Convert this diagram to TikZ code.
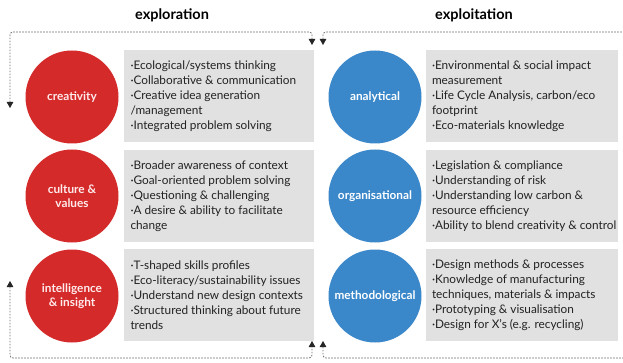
\documentclass[tikz,border=0pt]{standalone}
\usepackage{fontspec}
\setmainfont{Lato}
\usetikzlibrary{arrows.meta, positioning}
\definecolor{cRed}{HTML}{D52A2A}
\definecolor{cBlue}{HTML}{3A87C9}
\definecolor{cBox}{HTML}{E1E1E1}
\definecolor{cLoop}{HTML}{707070}
\definecolor{cText}{HTML}{222222}

\begin{document}
\begin{tikzpicture}[x=1pt, y=-1pt,
      >={Triangle[length=6pt, width=6.5pt, color=black!85]},
      ring/.style={circle, minimum size=93pt, inner sep=0pt, align=center,
                   font=\fontsize{11.8}{13.5}\selectfont\bfseries},
      expl/.style={ring, fill=cRed, text=red!8},
      expt/.style={ring, fill=cBlue, text=white},
      panel/.style={fill=cBox, minimum width=190pt, minimum height=92pt,
                    inner sep=0pt},
      items/.style={align=left, inner sep=0pt, text=cText,
                    font=\fontsize{11.8}{15}\selectfont},
      head/.style={font=\fontsize{14.5}{17}\selectfont\bfseries},
      cycleline/.style={cLoop, line width=0.8pt,
                        dash pattern=on 1.6pt off 1.4pt, rounded corners=3pt}]
    \path[fill=white, use as bounding box] (0,0) rectangle (623,363);

    % headings
    \node[head] (hleft) at (172,15) {exploration};
    \node[head] (hright) at (474,15) {exploitation};

    % exploration column
    \node[expl] (crea) at (72,97)  {creativity};
    \node[expl] (cult) at (72,196) {culture \&\\values};
    \node[expl] (inte) at (72,296) {intelligence\\\& insight};

    \node[panel] (p1) at (218.5,96)  {};
    \node[panel] (p2) at (218.5,196) {};
    \node[panel] (p3) at (218.5,295) {};

    \node[items, anchor=west] (t1) at ([xshift=7pt]p1.west)
      {·Ecological/systems thinking\\·Collaborative \& communication\\
       ·Creative idea generation\\/management\\·Integrated problem solving};
    \node[items, anchor=west] (t2) at ([xshift=7pt]p2.west)
      {·Broader awareness of context\\·Goal-oriented problem solving\\
       ·Questioning \& challenging\\·A desire \& ability to facilitate\\change};
    \node[items, anchor=west] (t3) at ([xshift=7pt]p3.west)
      {·T-shaped skills profiles\\·Eco-literacy/sustainability issues\\
       ·Understand new design contexts\\·Structured thinking about future\\trends};

    % exploitation column
    \node[expt] (anal) at (375,97)  {analytical};
    \node[expt] (orga) at (375,196) {organisational};
    \node[expt] (meth) at (375,296) {methodological};

    \node[panel, minimum width=192pt] (p4) at (522,96)  {};
    \node[panel, minimum width=192pt] (p5) at (522,196) {};
    \node[panel, minimum width=192pt] (p6) at (522,295) {};

    \node[items, anchor=west] (t4) at ([xshift=6pt]p4.west)
      {·Environmental \& social impact\\measurement\\
       ·Life Cycle Analysis, carbon/eco\\footprint\\·Eco-materials knowledge};
    \node[items, anchor=west] (t5) at ([xshift=6pt]p5.west)
      {·Legislation \&\ compliance\\·Understanding of risk\\
       ·Understanding low carbon \&\\resource efficiency\\
       ·Ability to blend creativity \& control};
    \node[items, anchor=west] (t6) at ([xshift=6pt]p6.west)
      {·Design methods \& processes\\·Knowledge of manufacturing\\
       techniques, materials \& impacts\\·Prototyping \& visualisation\\
       ·Design for X's (e.g. recycling)};

    % dotted cycles
    \coordinate (ltopin)  at (10,108);
    \coordinate (ltopa)   at (10,32);
    \coordinate (ltopb)   at (312,32);
    \coordinate (ltopout) at (312,45);
    \coordinate (lbotin)  at (10,281);
    \coordinate (lbota)   at (10,358);
    \coordinate (lbotb)   at (312,358);
    \coordinate (lbotout) at (312,341);
    \coordinate (rtopin)  at (323,45);
    \coordinate (rtopa)   at (323,32);
    \coordinate (rtopb)   at (623,32);
    \coordinate (rbotin)  at (323,341);
    \coordinate (rbota)   at (323,358);
    \coordinate (rbotb)   at (623,358);

    \draw[cycleline, <->] (ltopin) -- (ltopa) -- (ltopb) -- (ltopout);
    \draw[cycleline, <->] (lbotin) -- (lbota) -- (lbotb) -- (lbotout);
    \draw[cycleline, <-]  (rtopin) -- (rtopa) -- (rtopb);
    \draw[cycleline, <-]  (rbotin) -- (rbota) -- (rbotb);
\end{tikzpicture}
\end{document}
